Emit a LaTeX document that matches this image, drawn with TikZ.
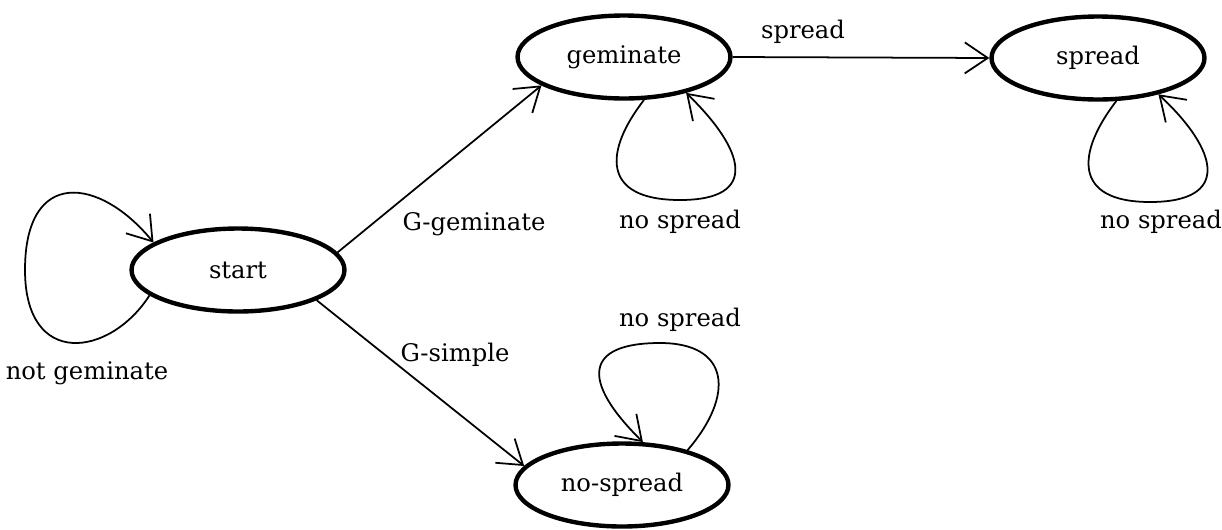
\documentclass[tikz,border=0pt]{standalone}
\usepackage{fontspec}
\setmainfont{DejaVu Serif}
\usetikzlibrary{arrows.meta,shapes.geometric}

\begin{document}
\begin{tikzpicture}[x=0.02cm,y=0.02cm]
\tikzstyle{every node}=[font=\fontsize{13.8}{16}\selectfont]
\tikzstyle{state}=[ellipse,draw,line width=2.5pt,minimum width=4.26cm,minimum height=1.66cm,inner sep=0pt]
\tikzstyle{arr}=[line width=1pt,-{Straight Barb[length=4.6mm,width=6.2mm]}]
\useasboundingbox (0,0) rectangle (1222,529);

\node[state] (start) at (238,259) {start};
\node[state] (gem) at (624,472) {geminate};
\node[state] (spr) at (1098,471) {spread};
\node[state] (nospr) at (622,44) {no-spread};

\draw[arr] (start.10) -- (gem.199);
\draw[arr] (start.-21) -- (nospr.169);
\draw[arr] (gem.east) -- (spr.west);

\draw[arr] (start.196) .. controls (110,172) and (25,160) .. (25,259)
  .. controls (25,362) and (100,352) .. (start.162);
\draw[arr] (gem.-65) .. controls (605,379) and (600,329) .. (680,329)
  .. controls (760,329) and (745,379) .. (gem.-30);
\draw[arr] (spr.-67) .. controls (1077,377) and (1072,327) .. (1150,327)
  .. controls (1230,327) and (1220,377) .. (spr.-31);
\draw[arr] (nospr.28) .. controls (735,134) and (730,186) .. (660,186)
  .. controls (585,186) and (580,149) .. (nospr.64);

\node (lblsp) at (803,497) {spread};
\node (lblgg) at (474,305) {G-geminate};
\node (lblgs) at (455,174) {G-simple};
\node (lblng) at (87,156) {not geminate};
\node (lblns1) at (680,307) {no spread};
\node (lblns2) at (1161,307) {no spread};
\node (lblns3) at (680,209) {no spread};

\end{tikzpicture}
\end{document}
